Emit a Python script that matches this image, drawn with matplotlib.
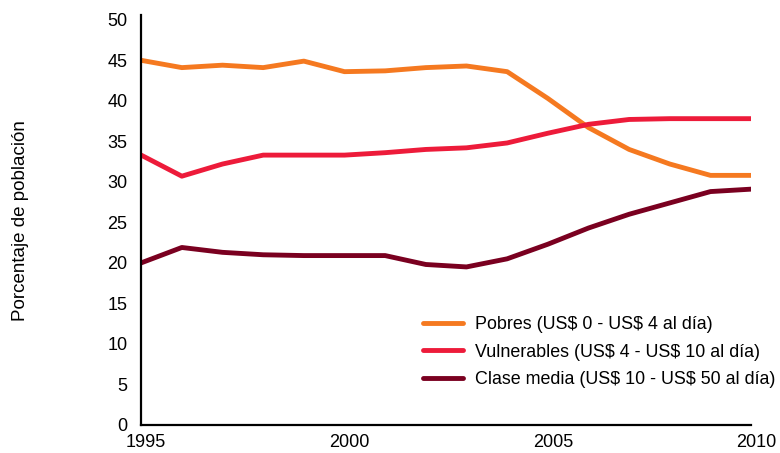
import matplotlib.pyplot as plt
import matplotlib.transforms as mtransforms

plt.rcParams['font.family'] = ['Liberation Sans', 'DejaVu Sans']
plt.rcParams['text.parse_math'] = False

years = list(range(1995, 2011))

# porcentaje de poblacion por grupo
pobres = [45.0, 44.1, 44.4, 44.1, 44.9, 43.6, 43.7, 44.1, 44.3, 43.6,
          40.3, 36.7, 34.0, 32.2, 30.8, 30.8]
vulnerables = [33.3, 30.7, 32.2, 33.3, 33.3, 33.3, 33.6, 34.0, 34.2, 34.8,
               36.0, 37.1, 37.7, 37.8, 37.8, 37.8]
clase_media = [20.0, 21.9, 21.3, 21.0, 20.9, 20.9, 20.9, 19.8, 19.5, 20.5,
               22.3, 24.3, 26.0, 27.4, 28.8, 29.1]

labels = ["Pobres (US$ 0 - US$ 4 al día)",
          "Vulnerables (US$ 4 - US$ 10 al día)",
          "Clase media (US$ 10 - US$ 50 al día)"]
colors = ["#F57920", "#ED1B3A", "#7A0020"]

xticks = [1995, 2000, 2005, 2010]
yticks = list(range(0, 51, 5))

fig = plt.figure(figsize=(7.8, 4.53), dpi=100)
ax = fig.add_axes([0.181, 0.062, 0.782, 0.905])

for vals, lab, col in zip([pobres, vulnerables, clase_media], labels, colors):
    ax.plot(years, vals, color=col, lw=3.5, label=lab,
            solid_capstyle='round', solid_joinstyle='round')

ax.set_xlim(1995, 2010)
ax.set_ylim(0, 50.6)
ax.set_xticks(xticks)
ax.set_yticks(yticks)
ax.tick_params(length=0, labelsize=13)
ax.tick_params(axis='x', pad=6.5)
ax.tick_params(axis='y', pad=10)

# year labels sit a bit right of their data position
offset = mtransforms.ScaledTranslation(5 / 100, 0, fig.dpi_scale_trans)
for t in ax.get_xticklabels():
    t.set_transform(t.get_transform() + offset)

for s in ['top', 'right']:
    ax.spines[s].set_visible(False)
for s in ['left', 'bottom']:
    ax.spines[s].set_linewidth(1.6)

fig.text(0.026, 0.514, "Porcentaje de población", rotation=90,
         ha='center', va='center', fontsize=13.5)

ax.legend(loc='upper left', bbox_to_anchor=(0.542, 0.302),
          bbox_transform=fig.transFigure, frameon=False, fontsize=12.9,
          borderpad=0, borderaxespad=0, handlelength=2.25,
          handletextpad=0.65, labelspacing=0.58)

fig.savefig("out.png", dpi=100)
